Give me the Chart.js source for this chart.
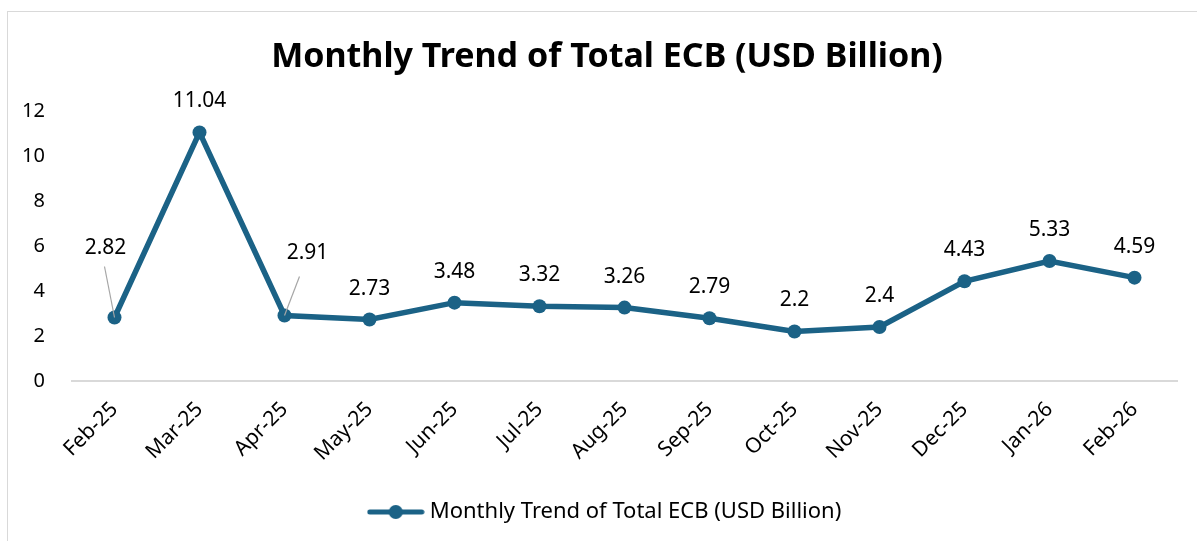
<!DOCTYPE html>
<html>
<head>
<meta charset="utf-8">
<script src="https://cdn.jsdelivr.net/npm/chart.js@4.4.1/dist/chart.umd.min.js"></script>
<style>
  html, body { margin: 0; padding: 0; background: #fff; }
  #wrap { position: relative; width: 1197px; height: 541px; }
  #frame { position: absolute; left: 7px; top: 11px; width: 1200px; height: 540px;
           border: 1px solid #d9d9d9; pointer-events: none; }
</style>
</head>
<body>
<div id="wrap">
  <canvas id="ecbChart" width="1197" height="541"></canvas>
  <div id="frame"></div>
</div>
<script>
// data
var months = ['Feb-25', 'Mar-25', 'Apr-25', 'May-25', 'Jun-25', 'Jul-25', 'Aug-25',
              'Sep-25', 'Oct-25', 'Nov-25', 'Dec-25', 'Jan-26', 'Feb-26'];
var ecbValues = [2.82, 11.04, 2.91, 2.73, 3.48, 3.32, 3.26, 2.79, 2.2, 2.4, 4.43, 5.33, 4.59];
var yTicks = [0, 2, 4, 6, 8, 10, 12];

var lineColor = '#1b6286';
var textFont = "'Noto Sans', sans-serif";

// two labels sit away from their points, joined by leader lines
var labelShift = {
    0: { dx: -9, dy: -69, fromX: -1, fromY: 18 },
    2: { dx: 23, dy: -62, fromX: -8, fromY: 23 }
};

// legend symbol: line with a dot
var legendIcon = document.createElement('canvas');
legendIcon.width = 58;
legendIcon.height = 16;
(function () {
    var c = legendIcon.getContext('2d');
    c.strokeStyle = lineColor;
    c.lineWidth = 5;
    c.lineCap = 'round';
    c.beginPath();
    c.moveTo(3, 8);
    c.lineTo(55, 8);
    c.stroke();
    c.fillStyle = lineColor;
    c.beginPath();
    c.arc(29, 8, 7, 0, Math.PI * 2);
    c.fill();
})();

var valueLabels = {
    id: 'valueLabels',
    afterDatasetsDraw: function (chart) {
        var ctx = chart.ctx;
        var meta = chart.getDatasetMeta(0);
        ctx.save();
        ctx.font = '21px ' + textFont;
        ctx.fillStyle = '#000';
        ctx.textAlign = 'center';
        ctx.textBaseline = 'middle';
        meta.data.forEach(function (pt, i) {
            var text = String(ecbValues[i]);
            var s = labelShift[i];
            if (s) {
                var lx = pt.x + s.dx, ly = pt.y + s.dy;
                ctx.strokeStyle = '#a6a6a6';
                ctx.lineWidth = 1.2;
                ctx.beginPath();
                ctx.moveTo(lx + s.fromX, ly + s.fromY);
                ctx.lineTo(pt.x, pt.y);
                ctx.stroke();
                ctx.fillText(text, lx, ly);
            } else {
                ctx.fillText(text, pt.x, pt.y - 31);
            }
        });
        ctx.restore();
    }
};

new Chart(document.getElementById('ecbChart'), {
    type: 'line',
    data: {
        labels: months,
        datasets: [{
            label: 'Monthly Trend of Total ECB (USD Billion)',
            data: ecbValues,
            borderColor: lineColor,
            backgroundColor: lineColor,
            borderWidth: 5.5,
            pointRadius: 7,
            pointHoverRadius: 7,
            pointBackgroundColor: lineColor,
            pointBorderWidth: 0,
            tension: 0
        }]
    },
    plugins: [valueLabels],
    options: {
        responsive: false,
        animation: false,
        layout: { padding: { left: 17, right: 0, top: 0, bottom: 8 } },
        plugins: {
            title: {
                display: true,
                text: 'Monthly Trend of Total ECB (USD Billion)',
                color: '#000',
                font: { family: textFont, size: 34, weight: 'bold' },
                padding: { top: 37, bottom: 33 }
            },
            legend: {
                position: 'bottom',
                labels: {
                    color: '#000',
                    font: { family: textFont, size: 22 },
                    usePointStyle: true,
                    pointStyleWidth: 46,
                    boxHeight: 16,
                    padding: 10,
                    generateLabels: function (chart) {
                        return [{
                            text: chart.data.datasets[0].label,
                            pointStyle: legendIcon,
                            fillStyle: lineColor,
                            strokeStyle: lineColor,
                            lineWidth: 0,
                            datasetIndex: 0
                        }];
                    }
                }
            },
            tooltip: { enabled: false }
        },
        scales: {
            x: {
                offset: true,
                grid: { display: false },
                border: { display: true, color: '#d9d9d9', width: 2 },
                afterFit: function (scale) { scale.height = 110; },
                ticks: {
                    color: '#000',
                    font: { family: textFont, size: 21 },
                    minRotation: 45,
                    maxRotation: 45,
                    padding: 8
                }
            },
            y: {
                min: 0,
                max: 12,
                grid: { display: false },
                border: { display: false },
                afterFit: function (scale) { scale.width = 55; },
                afterBuildTicks: function (scale) {
                    scale.ticks = yTicks.map(function (v) { return { value: v }; });
                },
                ticks: {
                    color: '#000',
                    font: { family: textFont, size: 20 },
                    padding: 19
                }
            },
            // empty right-hand spacer so the plot ends where the original does
            spacer: {
                type: 'linear',
                position: 'right',
                grid: { display: false },
                border: { display: false },
                ticks: { display: false },
                afterFit: function (scale) { scale.width = 20; }
            }
        }
    }
});
</script>
</body>
</html>
